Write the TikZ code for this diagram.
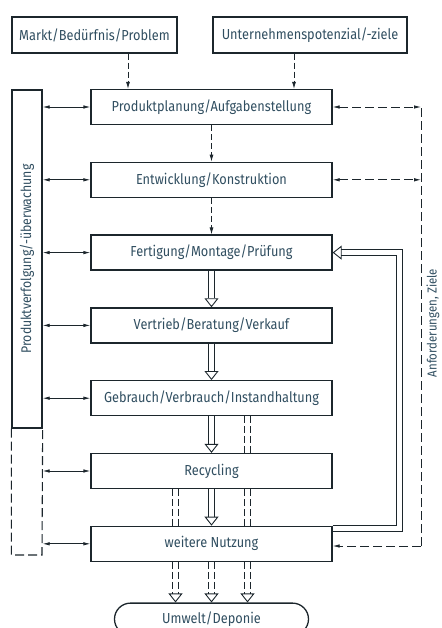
\documentclass[tikz,border=0pt]{standalone}
\usepackage{fontspec}
\setmainfont[FakeStretch=0.88]{Fira Sans}
\usetikzlibrary{arrows.meta, positioning, shapes.misc}
\definecolor{inkline}{RGB}{28,38,44}
\definecolor{inktext}{RGB}{48,78,96}
\tikzset{
  stage/.style={draw=inkline, line width=1.3pt, minimum width=241pt, minimum height=35pt, inner sep=0pt, text=inktext, font=\fontsize{14.5}{16}\selectfont},
  source/.style={stage, minimum height=36pt},
  plan/.style={draw=inkline, line width=0.8pt, dash pattern=on 6pt off 3pt, -{Latex[length=7pt,width=4pt]}},
  link/.style={draw=inkline, line width=0.8pt, {Latex[length=7pt,width=3.5pt]}-{Latex[length=7pt,width=3.5pt]}},
  feedback/.style={draw=inkline, line width=0.8pt, dash pattern=on 9pt off 4pt},
  hollow/.style={draw=inkline, line width=0.9pt, double=white, double distance=4.5pt, -{Triangle[open, length=9pt, width=14pt]}},
  hollow dashed/.style={hollow, dash pattern=on 7pt off 3pt},
  material/.style={draw=inkline, line width=0.9pt, double=white, double distance=4.5pt, dash pattern=on 7pt off 3pt},
}

\begin{document}
\begin{tikzpicture}[x=1pt, y=-1pt]
  \useasboundingbox (0,0) rectangle (441,628);
  % Ausgangspunkte
  \node[source, minimum width=165pt] (markt) at (94.5,35) {Markt/Bedürfnis/Problem};
  \node[source, minimum width=194pt] (ziele) at (310,35) {Unternehmenspotenzial/-ziele};
  % Produktlebenslauf
  \node[stage] (planung) at (211.5,107) {Produktplanung/Aufgabenstellung};
  \node[stage, below=36.5pt of planung] (entw) {Entwicklung/Konstruktion};
  \node[stage, below=36.5pt of entw] (fert) {Fertigung/Montage/Prüfung};
  \node[stage, below=36.5pt of fert] (vertrieb) {Vertrieb/Beratung/Verkauf};
  \node[stage, below=36.5pt of vertrieb] (gebrauch) {Gebrauch/Verbrauch/Instandhaltung};
  \node[stage, below=36.5pt of gebrauch] (recycling) {Recycling};
  \node[stage, below=36.5pt of recycling] (nutzung) {weitere Nutzung};
  \node[stage, rounded rectangle, minimum width=194pt, minimum height=32pt, below=40.5pt of nutzung] (umwelt) {Umwelt/Deponie};

  % Produktverfolgung
  \node[draw=inkline, line width=1.3pt, minimum width=30pt, minimum height=338pt, inner sep=0pt, text=inktext, font=\fontsize{14}{16}\selectfont] (track) at (27,259) {\rotatebox{90}{Produktverfolgung/-überwachung}};
  \coordinate (trackend) at (42,555);
  \draw[feedback, line width=1.1pt] (track.south west) |- (trackend) -- (track.south east);
  \foreach \n in {planung, entw, fert, vertrieb, gebrauch, recycling, nutzung}
    \draw[link] (\n.west -| track.east) -- (\n.west);

  % Anforderungen, Ziele
  \coordinate (req) at (421,546);
  \draw[feedback] (req) -- (req |- planung.east);
  \foreach \n in {planung, entw}
    \draw[feedback, {Latex[length=7pt,width=3.5pt]}-{Latex[length=7pt,width=3.5pt]}] (\n.east) -- (\n.east -| req);
  \draw[feedback, -{Latex[length=7pt,width=3.5pt]}] (req) -- (req -| nutzung.east);
  \node[text=inktext, rotate=90, font=\fontsize{13}{15}\selectfont] (anf) at (433,323) {Anforderungen, Ziele};

  % Rueckfuehrung
  \coordinate (ret) at (399.5,528.5);
  \draw[hollow] (ret -| nutzung.east) -- (ret) |- (fert.east);

  % Hauptfluss
  \draw[plan] ([xshift=33.5pt]markt.south) -- ([xshift=33.5pt]markt.south |- planung.north);
  \draw[plan] ([xshift=-16pt]ziele.south) -- ([xshift=-16pt]ziele.south |- planung.north);
  \draw[plan] (planung.south) -- (entw.north);
  \draw[plan] (entw.south) -- (fert.north);
  \foreach \a/\b in {fert/vertrieb, vertrieb/gebrauch, gebrauch/recycling, recycling/nutzung}
    \draw[hollow] (\a.south) -- (\b.north);

  % Stoffstroeme
  \draw[material] ([xshift=36pt]gebrauch.south) -- ([xshift=36pt]recycling.north);
  \foreach \dx in {-36, 36}
    \draw[material] ([xshift=\dx pt]recycling.south) -- ([xshift=\dx pt]nutzung.north);
  \foreach \dx in {-36, 0, 36}
    \draw[hollow dashed] ([xshift=\dx pt]nutzung.south) -- ([xshift=\dx pt]umwelt.north);
\end{tikzpicture}
\end{document}
